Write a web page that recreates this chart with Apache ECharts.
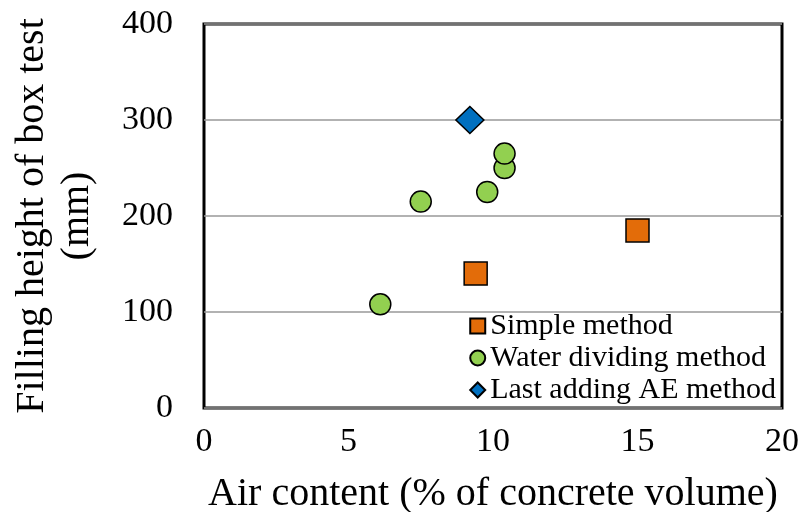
<!DOCTYPE html>
<html lang="en" style="height: 100%">
<head>
<meta charset="utf-8">
<title>Filling height vs air content</title>
</head>
<body style="height: 100%; margin: 0; background: #fff">
<div id="container" style="width: 802px; height: 512px"></div>
<script type="text/javascript" src="https://cdn.jsdelivr.net/npm/echarts@6/dist/echarts.min.js"></script>
<script type="text/javascript">
var dom = document.getElementById('container');
var myChart = echarts.init(dom);

// Data: [air content %, filling height mm]
var simpleMethod = [[9.4, 140], [15.0, 185]];
var waterDividing = [[6.1, 108], [7.5, 215], [9.8, 225], [10.4, 250], [10.4, 265]];
var lastAddingAE = [[9.2, 300]];

var seriesNames = ['Simple method', 'Water dividing method', 'Last adding AE method'];

var font = 'Liberation Serif, Times New Roman, serif';

var option = {
  backgroundColor: '#fff',
  animation: false,
  grid: {
    left: 204,
    right: 20,
    top: 24,
    bottom: 104,
    outerBoundsMode: 'none',
    containLabel: false,
    show: true,
    borderColor: '#000',
    borderWidth: 3
  },
  legend: {
    orient: 'vertical',
    right: 21,
    bottom: 102,
    itemGap: 2,
    itemWidth: 15,
    itemHeight: 15,
    textStyle: { fontFamily: font, fontSize: 30, color: '#000' },
    data: seriesNames
  },
  xAxis: {
    type: 'value',
    min: 0,
    max: 20,
    interval: 5,
    name: 'Air content (% of concrete volume)',
    nameLocation: 'middle',
    nameGap: 66,
    nameTextStyle: { fontFamily: font, fontSize: 40, color: '#000' },
    axisLine: { show: false },
    axisTick: { show: false },
    splitLine: { show: false },
    axisLabel: { fontFamily: font, fontSize: 34, color: '#000', margin: 17 }
  },
  yAxis: {
    type: 'value',
    min: 0,
    max: 400,
    interval: 100,
    name: 'Filling height of box test\n(mm)',
    nameLocation: 'middle',
    nameGap: 104,
    nameTextStyle: { fontFamily: font, fontSize: 40, color: '#000', lineHeight: 45 },
    axisLine: { show: false },
    axisTick: { show: false },
    splitLine: { lineStyle: { color: '#999', width: 1.5 } },
    axisLabel: { fontFamily: font, fontSize: 34, color: '#000', margin: 31 }
  },
  series: [
    {
      name: seriesNames[0],
      type: 'scatter',
      symbol: 'rect',
      symbolSize: 23,
      itemStyle: { color: '#e36c09', borderColor: '#000', borderWidth: 1.5, opacity: 1 },
      data: simpleMethod
    },
    {
      name: seriesNames[1],
      type: 'scatter',
      symbol: 'circle',
      symbolSize: 21,
      itemStyle: { color: '#92d050', borderColor: '#000', borderWidth: 1.5, opacity: 1 },
      data: waterDividing
    },
    {
      name: seriesNames[2],
      type: 'scatter',
      symbol: 'diamond',
      symbolSize: [28, 27],
      itemStyle: { color: '#0070c0', borderColor: '#000', borderWidth: 1.5, opacity: 1 },
      data: lastAddingAE
    }
  ]
};

myChart.setOption(option);
window.addEventListener('resize', myChart.resize);
</script>
</body>
</html>
